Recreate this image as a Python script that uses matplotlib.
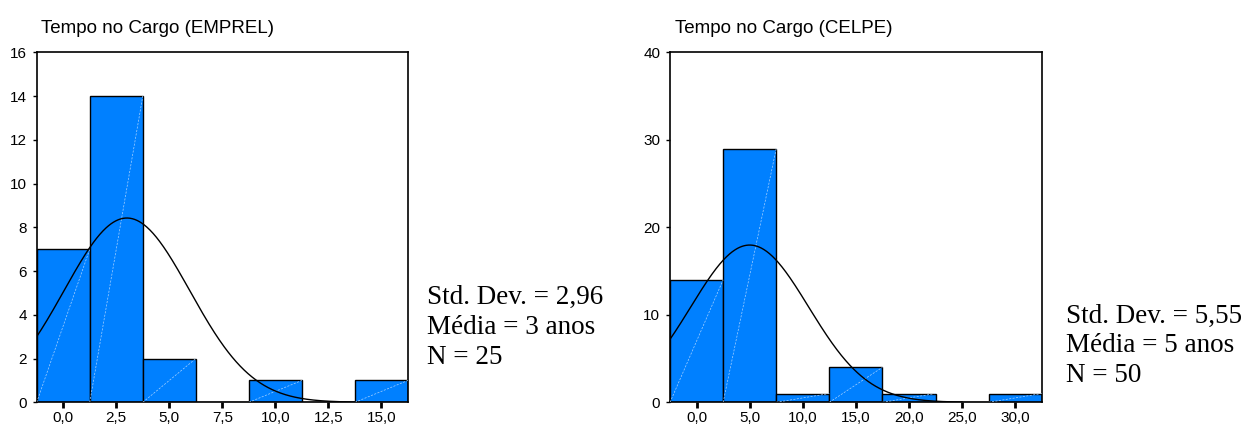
import numpy as np
import matplotlib
matplotlib.use("Agg")
import matplotlib.pyplot as plt
from matplotlib.ticker import FuncFormatter

# ---- data ----
emprel_centers = [0.0, 2.5, 5.0, 7.5, 10.0, 12.5, 15.0]
emprel_counts = [7, 14, 2, 0, 1, 0, 1]
emprel_width = 2.5
emprel_mean = 3.0
emprel_sd = 2.96
emprel_n = 25
emprel_title = "Tempo no Cargo (EMPREL)"
emprel_stats = ["Std. Dev. = 2,96", "Média = 3 anos", "N = 25"]
emprel_yticks = [0, 2, 4, 6, 8, 10, 12, 14, 16]

celpe_centers = [0.0, 5.0, 10.0, 15.0, 20.0, 25.0, 30.0]
celpe_counts = [14, 29, 1, 4, 1, 0, 1]
celpe_width = 5.0
celpe_mean = 5.0
celpe_sd = 5.55
celpe_n = 50
celpe_title = "Tempo no Cargo (CELPE)"
celpe_stats = ["Std. Dev. = 5,55", "Média = 5 anos", "N = 50"]
celpe_yticks = [0, 10, 20, 30, 40]

BAR = "#0080ff"
SANS = ["Liberation Sans", "DejaVu Sans"]
SERIF = ["Liberation Serif", "DejaVu Serif"]

fig = plt.figure(figsize=(12.45, 4.24), dpi=100)


def hist_panel(rect, centers, counts, width, mean, sd, n, title, yticks,
               curve_end, stats, stats_xy):
    ax = fig.add_axes(rect)
    centers = np.asarray(centers)
    counts = np.asarray(counts)
    lefts = centers - width / 2
    ax.bar(centers, counts, width=width, color=BAR, edgecolor="black",
           linewidth=1.0, zorder=2)
    for l, c in zip(lefts, counts):
        if c > 0:
            ax.plot([l, l + width], [0, c], color="#a8d2ff", lw=0.5,
                    ls=(0, (3, 2)), zorder=3)
    xmin = centers[0] - width / 2
    xmax = centers[-1] + width / 2
    xs = np.linspace(xmin, curve_end, 400)
    ys = n * width / (sd * np.sqrt(2 * np.pi)) * np.exp(-0.5 * ((xs - mean) / sd) ** 2)
    ax.plot(xs, ys, color="black", lw=1.0, zorder=4)
    ax.set_xlim(xmin, xmax)
    ax.set_ylim(yticks[0], yticks[-1])
    ax.set_yticks(yticks)
    ax.set_xticks(centers)
    ax.xaxis.set_major_formatter(FuncFormatter(lambda v, p: f"{v:.1f}".replace(".", ",")))
    ax.tick_params(axis="x", direction="out", length=4, width=2, pad=2,
                   labelsize=11)
    ax.tick_params(axis="y", direction="out", length=3, width=1, pad=4,
                   labelsize=11)
    for lab in ax.get_xticklabels() + ax.get_yticklabels():
        lab.set_family(SANS)
    for s in ax.spines.values():
        s.set_linewidth(1.2)
    ax.text(0.012, 1 + 19 / 350, title, transform=ax.transAxes, ha="left",
            va="baseline", fontsize=13.5, family=SANS)
    x, y0, dy = stats_xy
    for i, line in enumerate(stats):
        fig.text(x, y0 - i * dy, line, ha="left", va="center",
                 fontsize=19.5, family=SERIF)
    return ax


hist_panel([0.0295, 0.0512, 0.2982, 0.8255], emprel_centers, emprel_counts,
           emprel_width, emprel_mean, emprel_sd, emprel_n, emprel_title,
           emprel_yticks, 13.75, emprel_stats,
           (427 / 1245, 1 - 297 / 424, 30 / 424))
hist_panel([0.5382, 0.0512, 0.2985, 0.8255], celpe_centers, celpe_counts,
           celpe_width, celpe_mean, celpe_sd, celpe_n, celpe_title,
           celpe_yticks, 25.0, celpe_stats,
           (1066 / 1245, 1 - 316 / 424, 29.5 / 424))

fig.savefig("out.png", dpi=100)
